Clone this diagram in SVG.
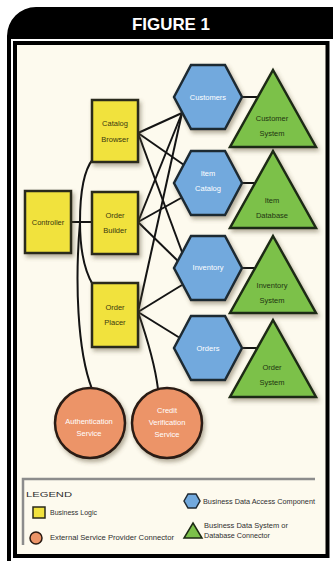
<svg xmlns="http://www.w3.org/2000/svg" xmlns:xlink="http://www.w3.org/1999/xlink" width="333" height="561" viewBox="0 0 333 561">
  <defs>
    <filter id="shadow" x="-30%" y="-30%" width="160%" height="160%">
      <feDropShadow dx="2" dy="3" stdDeviation="2" flood-color="#5a5030" flood-opacity="0.45"/>
    </filter>
    <polygon id="hex" points="-34,0 -17,-32 17,-32 34,0 17,32 -17,32"/>
    <polygon id="tri" points="0,-77 43,0 -43,0"/>
  </defs>
  <style>
    .logic { fill: #f1e23e; stroke: #2a2a1a; stroke-width: 2.5; filter: url(#shadow); }
    .data { fill: #72a9dd; stroke: #1f2a33; stroke-width: 2.5; filter: url(#shadow); }
    .sys { fill: #7cc14a; stroke: #1d2a14; stroke-width: 2.5; filter: url(#shadow); }
    .ext { fill: #ec9467; stroke: #2a1a12; stroke-width: 2.5; filter: url(#shadow); }
    .wire { fill: none; stroke: #141414; stroke-width: 2; }
    .lbl { font-family: "Liberation Sans", Arial, sans-serif; font-size: 7.5px; text-anchor: middle; }
    .dark { fill: #3a3810; }
    .green { fill: #1f3512; }
    .light { fill: #ffffff; }
    .leg { font-family: "Liberation Sans", Arial, sans-serif; font-size: 6.5px; fill: #2e2e2e; }
  </style>

  <!-- frame and title tab -->
  <path d="M7,561 V36 A29,29 0 0 1 36,7 H333 V39 H11 V561 Z" fill="#000"/>
  <text x="171" y="30" font-family="Liberation Sans, Arial, sans-serif" font-weight="bold" font-size="17" fill="#fff" text-anchor="middle" textLength="78" lengthAdjust="spacingAndGlyphs">FIGURE 1</text>
  <rect x="15" y="43" width="312.5" height="513" fill="#fdfaee" stroke="#000" stroke-width="4"/>

  <!-- connectors -->
  <g id="connectors">
    <line class="wire" x1="71" y1="222" x2="92" y2="222"/>
    <path class="wire" d="M80,222 C80,192 84,170 93,159"/>
    <path class="wire" d="M80,222 C80,250 84,270 93,285"/>
    <path class="wire" d="M80,222 C75,280 77,350 92,389"/>
    <path class="wire" d="M138,312 C146,335 155,365 158,389"/>

    <line class="wire" x1="138" y1="133" x2="182" y2="113"/>
    <line class="wire" x1="138" y1="133" x2="184" y2="165"/>
    <line class="wire" x1="138" y1="133" x2="182" y2="252"/>
    <line class="wire" x1="138" y1="222" x2="182" y2="113"/>
    <line class="wire" x1="138" y1="222" x2="181" y2="198"/>
    <line class="wire" x1="138" y1="222" x2="180" y2="263"/>
    <line class="wire" x1="138" y1="312" x2="182" y2="113"/>
    <line class="wire" x1="138" y1="312" x2="182" y2="285"/>
    <line class="wire" x1="138" y1="312" x2="180" y2="338"/>

    <line class="wire" x1="208" y1="97" x2="273" y2="97"/>
    <line class="wire" x1="208" y1="183" x2="273" y2="183"/>
    <line class="wire" x1="208" y1="268" x2="273" y2="268"/>
    <line class="wire" x1="208" y1="348" x2="273" y2="348"/>
  </g>

  <!-- business logic -->
  <g id="catalog-browser">
    <rect class="logic" x="92" y="100" width="46" height="62"/>
    <text class="lbl dark" x="115" y="126">Catalog</text>
    <text class="lbl dark" x="115" y="142">Browser</text>
  </g>
  <g id="controller">
    <rect class="logic" x="25" y="191" width="46" height="62"/>
    <text class="lbl dark" x="48" y="225">Controller</text>
  </g>
  <g id="order-builder">
    <rect class="logic" x="92" y="192" width="46" height="62"/>
    <text class="lbl dark" x="115" y="218">Order</text>
    <text class="lbl dark" x="115" y="233">Builder</text>
  </g>
  <g id="order-placer">
    <rect class="logic" x="92" y="283" width="46" height="64"/>
    <text class="lbl dark" x="115" y="310">Order</text>
    <text class="lbl dark" x="115" y="325">Placer</text>
  </g>

  <!-- data access components -->
  <g id="customers">
    <use xlink:href="#hex" href="#hex" class="data" x="208" y="97"/>
    <text class="lbl light" x="208" y="100">Customers</text>
  </g>
  <g id="item-catalog">
    <use xlink:href="#hex" href="#hex" class="data" x="208" y="183"/>
    <text class="lbl light" x="208" y="176">Item</text>
    <text class="lbl light" x="208" y="191">Catalog</text>
  </g>
  <g id="inventory">
    <use xlink:href="#hex" href="#hex" class="data" x="208" y="268"/>
    <text class="lbl light" x="208" y="270">Inventory</text>
  </g>
  <g id="orders">
    <use xlink:href="#hex" href="#hex" class="data" x="208" y="348"/>
    <text class="lbl light" x="208" y="351">Orders</text>
  </g>

  <!-- data systems -->
  <g id="customer-system">
    <use xlink:href="#tri" href="#tri" class="sys" x="273" y="147"/>
    <text class="lbl green" x="272" y="121">Customer</text>
    <text class="lbl green" x="272" y="136">System</text>
  </g>
  <g id="item-database">
    <use xlink:href="#tri" href="#tri" class="sys" x="273" y="228"/>
    <text class="lbl green" x="272" y="203">Item</text>
    <text class="lbl green" x="272" y="218">Database</text>
  </g>
  <g id="inventory-system">
    <use xlink:href="#tri" href="#tri" class="sys" x="273" y="313"/>
    <text class="lbl green" x="272" y="288">Inventory</text>
    <text class="lbl green" x="272" y="303">System</text>
  </g>
  <g id="order-system">
    <use xlink:href="#tri" href="#tri" class="sys" x="273" y="397"/>
    <text class="lbl green" x="272" y="370">Order</text>
    <text class="lbl green" x="272" y="385">System</text>
  </g>

  <!-- external service providers -->
  <g id="authentication-service">
    <circle class="ext" cx="90" cy="423" r="35"/>
    <text class="lbl light" x="89" y="424">Authentication</text>
    <text class="lbl light" x="89" y="436">Service</text>
  </g>
  <g id="credit-verification-service">
    <circle class="ext" cx="167" cy="423" r="35"/>
    <text class="lbl light" x="167" y="413">Credit</text>
    <text class="lbl light" x="167" y="425">Verification</text>
    <text class="lbl light" x="167" y="437">Service</text>
  </g>

  <!-- legend -->
  <g id="legend">
    <path d="M23,545 V479 H315" fill="none" stroke="#8c8c8c" stroke-width="2.5"/>
    <text class="leg" x="26" y="497" font-size="8" fill="#6a6a6a" textLength="46" lengthAdjust="spacingAndGlyphs">LEGEND</text>
    <rect x="33" y="507" width="12" height="11" fill="#f1e23e" stroke="#2a2a1a" stroke-width="1.5"/>
    <text class="leg" x="50" y="515" textLength="47" lengthAdjust="spacingAndGlyphs">Business Logic</text>
    <circle cx="36" cy="538" r="6" fill="#ec9467" stroke="#2a1a12" stroke-width="1.5"/>
    <text class="leg" x="50" y="540" textLength="124" lengthAdjust="spacingAndGlyphs">External Service Provider Connector</text>
    <polygon points="184,501 188,494 196,494 200,501 196,508 188,508" fill="#72a9dd" stroke="#1f2a33" stroke-width="1.5"/>
    <text class="leg" x="203" y="504" textLength="112" lengthAdjust="spacingAndGlyphs">Business Data Access Component</text>
    <polygon points="193,523 202,538 184,538" fill="#7cc14a" stroke="#1d2a14" stroke-width="1.5"/>
    <text class="leg" x="204" y="528" textLength="84" lengthAdjust="spacingAndGlyphs">Business Data System or</text>
    <text class="leg" x="204" y="538" textLength="66" lengthAdjust="spacingAndGlyphs">Database Connector</text>
  </g>
</svg>
